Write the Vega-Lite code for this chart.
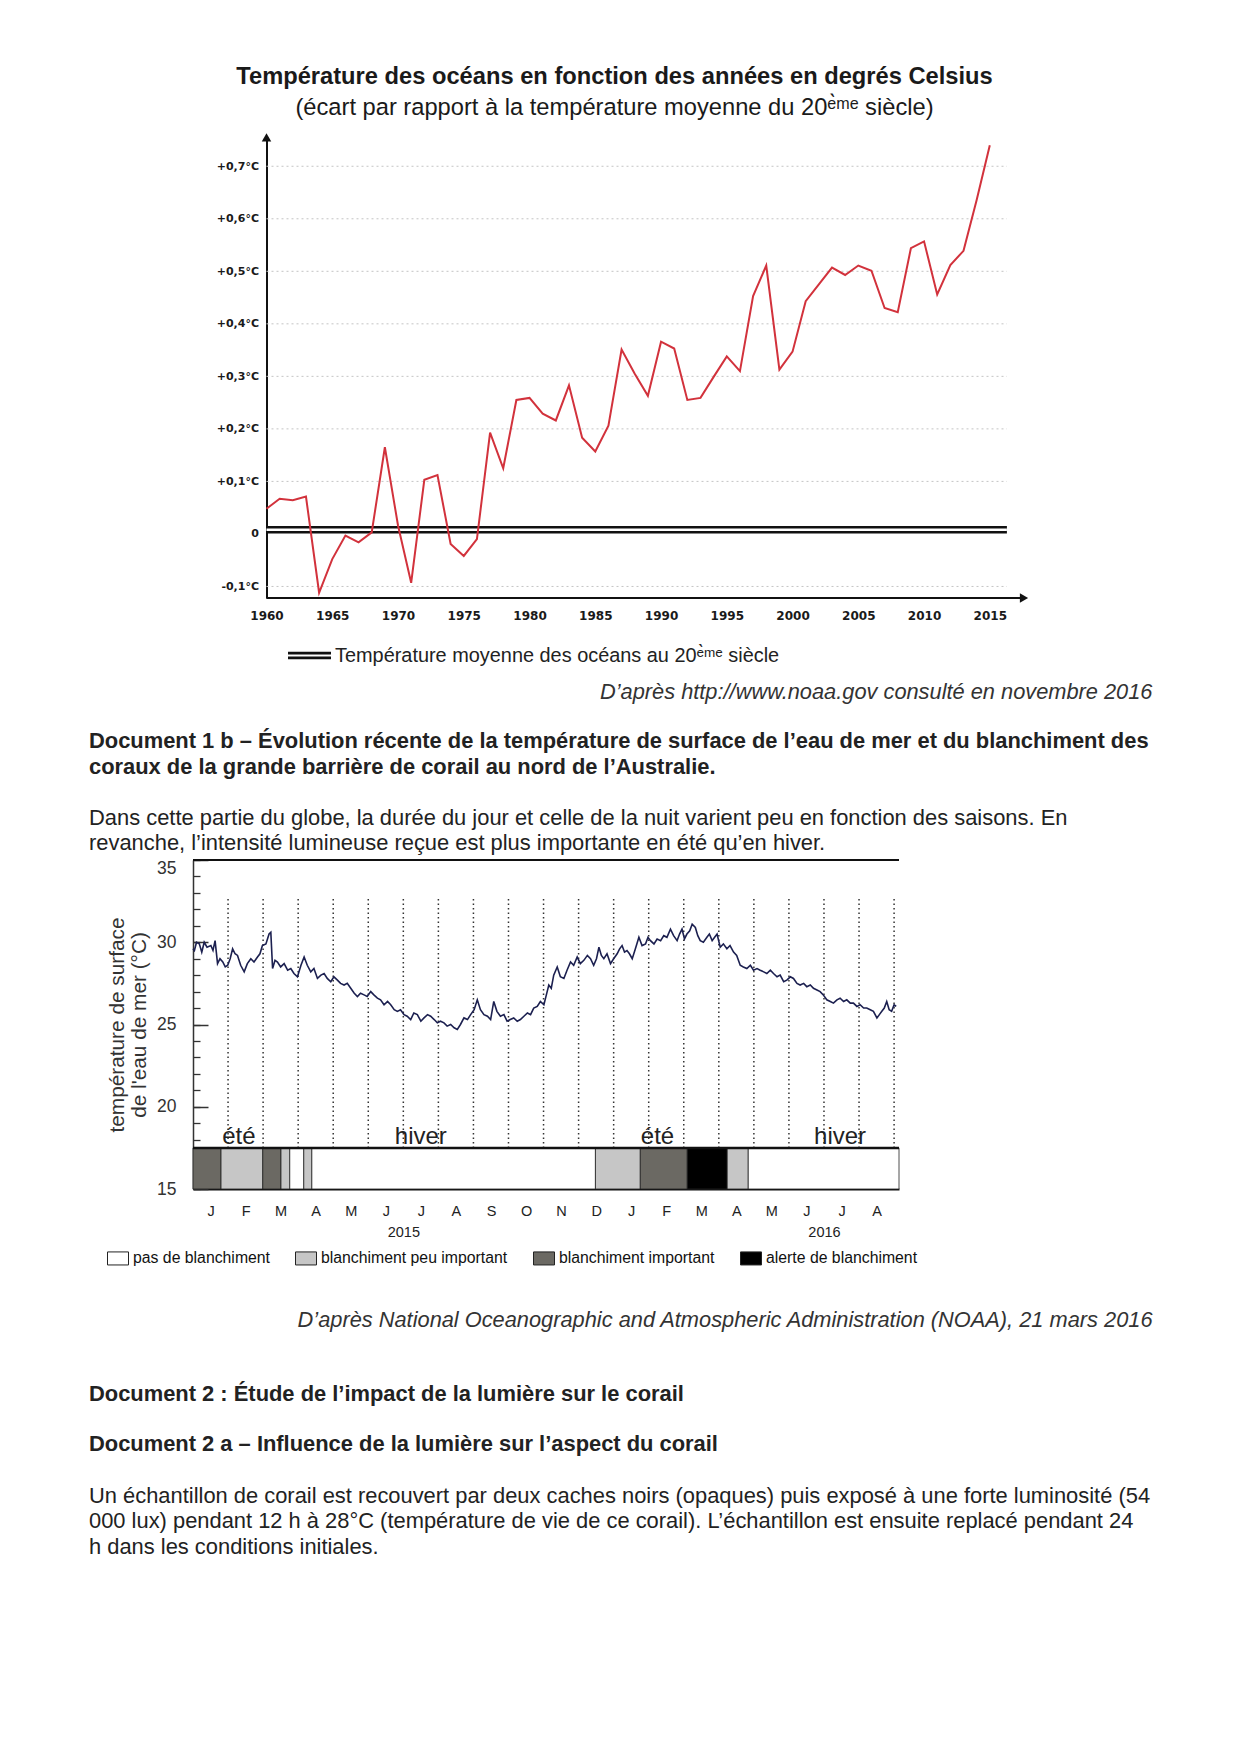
{
"$schema": "https://vega.github.io/schema/vega-lite/v6.json",
"background": "white",
"padding": {"left": 89, "top": 64, "right": 20, "bottom": 20},
"spacing": 27,
"resolve": {"legend": {"stroke": "independent", "fill": "independent"}},
"config": {"view": {"stroke": null}, "font": "Liberation Sans", "axis": {"labelFont": "Liberation Sans", "titleFont": "Liberation Sans"}, "legend": {"labelFont": "Liberation Sans", "padding": 0}},
"title": {"text": ["Document 2 : Étude de l’impact de la lumière sur le corail", "Document 2 a – Influence de la lumière sur l’aspect du corail"], "subtitle": ["Un échantillon de corail est recouvert par deux caches noirs (opaques) puis exposé à une forte luminosité (54", "000 lux) pendant 12 h à 28°C (température de vie de ce corail). L’échantillon est ensuite replacé pendant 24", "h dans les conditions initiales."], "orient": "bottom", "anchor": "start", "frame": "bounds", "offset": 52, "fontSize": 21.9, "fontWeight": "bold", "lineHeight": 50, "color": "#222", "subtitleFontSize": 21.9, "subtitleLineHeight": 25.7, "subtitlePadding": 30, "subtitleColor": "#222", "font": "Liberation Sans", "subtitleFont": "Liberation Sans"},
"vconcat": [
{
"width": 831, "height": 458,
"title": {"text": "Température des océans en fonction des années en degrés Celsius", "subtitle": "(écart par rapport à la température moyenne du 20ᵉ̀ᵐᵉ siècle)", "anchor": "middle", "frame": "group", "dx": 6, "offset": 13.8, "fontSize": 23.7, "fontWeight": "bold", "color": "#1a1a1a", "subtitleFontSize": 23.7, "subtitleColor": "#1a1a1a", "subtitlePadding": 7.3, "font": "Liberation Sans", "subtitleFont": "Liberation Sans"},
"resolve": {"axis": {"x": "independent", "y": "independent"}},
"layer": [
{"data": {"values": [{"niveau": -0.1}, {"niveau": 0.1}, {"niveau": 0.2}, {"niveau": 0.3}, {"niveau": 0.4}, {"niveau": 0.5}, {"niveau": 0.6}, {"niveau": 0.7}]},
 "mark": {"type": "rule", "color": "#c4c4c4", "strokeDash": [2, 3], "strokeWidth": 1},
 "encoding": {"y": {"field": "niveau", "type": "quantitative", "scale": {"domain": [-0.122, 0.75], "nice": false, "zero": false}, "axis": null},
  "x": {"datum": 1960, "scale": {"domain": [1954.41, 2017.6], "nice": false, "zero": false}, "axis": null}, "x2": {"datum": 2016.3}}},
{"data": {"values": [{}]},
 "mark": {"type": "rule", "strokeWidth": 7.5},
 "encoding": {"y": {"datum": 0.008, "scale": {"domain": [-0.122, 0.75], "nice": false, "zero": false}, "axis": null},
  "x": {"datum": 1960, "scale": {"domain": [1954.41, 2017.6], "nice": false, "zero": false}, "axis": null}, "x2": {"datum": 2016.3},
  "stroke": {"datum": "Température moyenne des océans au 20ᵉ̀ᵐᵉ siècle", "type": "nominal", "scale": {"range": ["#111111"]},
   "legend": {"orient": "none", "legendX": 95, "legendY": 494, "title": null, "symbolType": "M-1,-0.17H1V-0.05H-1Z M-1,0.05H1V0.17H-1Z", "symbolSize": 1849, "symbolStrokeWidth": 0, "labelFontSize": 19.9, "labelColor": "#222", "labelOffset": 4, "labelLimit": 800,
    "encode": {"symbols": {"update": {"fill": {"value": "#111111"}, "strokeWidth": {"value": 0}}}}}}}},
{"data": {"values": [{}]},
 "mark": {"type": "rule", "color": "white", "strokeWidth": 2.4},
 "encoding": {"y": {"datum": 0.008, "scale": {"domain": [-0.122, 0.75], "nice": false, "zero": false}, "axis": null},
  "x": {"datum": 1960, "scale": {"domain": [1954.41, 2017.6], "nice": false, "zero": false}, "axis": null}, "x2": {"datum": 2016.3}}},
{"data": {"values": [{}]},
 "mark": {"type": "rule", "color": "#111", "strokeWidth": 2},
 "encoding": {"y": {"datum": -0.122, "scale": {"domain": [-0.122, 0.75], "nice": false, "zero": false}, "axis": null},
  "x": {"datum": 1960, "scale": {"domain": [1954.41, 2017.6], "nice": false, "zero": false}, "axis": null}, "x2": {"datum": 2017.3}}},
{"data": {"values": [{}]},
 "mark": {"type": "point", "shape": "triangle-right", "filled": true, "color": "#111", "size": 90, "opacity": 1},
 "encoding": {"y": {"datum": -0.122, "scale": {"domain": [-0.122, 0.75], "nice": false, "zero": false}, "axis": null},
  "x": {"datum": 2017.6, "scale": {"domain": [1954.41, 2017.6], "nice": false, "zero": false}, "axis": null}}},
{"data": {"values": [{}]},
 "mark": {"type": "point", "shape": "triangle-up", "filled": true, "color": "#111", "size": 90, "opacity": 1},
 "encoding": {"y": {"datum": 0.755, "scale": {"domain": [-0.122, 0.75], "nice": false, "zero": false}, "axis": null},
  "x": {"datum": 1960, "scale": {"domain": [1954.41, 2017.6], "nice": false, "zero": false}, "axis": null}}},
{"data": {"values": [
{"annee":1960,"ecart":0.048},{"annee":1961,"ecart":0.067},{"annee":1962,"ecart":0.064},{"annee":1963,"ecart":0.071},{"annee":1964,"ecart":-0.112},{"annee":1965,"ecart":-0.048},{"annee":1966,"ecart":-0.003},{"annee":1967,"ecart":-0.016},{"annee":1968,"ecart":0.003},{"annee":1969,"ecart":0.165},
{"annee":1970,"ecart":0.016},{"annee":1971,"ecart":-0.093},{"annee":1972,"ecart":0.103},{"annee":1973,"ecart":0.112},{"annee":1974,"ecart":-0.019},{"annee":1975,"ecart":-0.042},{"annee":1976,"ecart":-0.010},{"annee":1977,"ecart":0.193},{"annee":1978,"ecart":0.125},{"annee":1979,"ecart":0.255},
{"annee":1980,"ecart":0.259},{"annee":1981,"ecart":0.229},{"annee":1982,"ecart":0.216},{"annee":1983,"ecart":0.283},{"annee":1984,"ecart":0.183},{"annee":1985,"ecart":0.157},{"annee":1986,"ecart":0.206},{"annee":1987,"ecart":0.351},{"annee":1988,"ecart":0.305},{"annee":1989,"ecart":0.263},
{"annee":1990,"ecart":0.366},{"annee":1991,"ecart":0.353},{"annee":1992,"ecart":0.255},{"annee":1993,"ecart":0.259},{"annee":1994,"ecart":0.299},{"annee":1995,"ecart":0.338},{"annee":1996,"ecart":0.310},{"annee":1997,"ecart":0.453},{"annee":1998,"ecart":0.511},{"annee":1999,"ecart":0.313},
{"annee":2000,"ecart":0.347},{"annee":2001,"ecart":0.443},{"annee":2002,"ecart":0.475},{"annee":2003,"ecart":0.507},{"annee":2004,"ecart":0.493},{"annee":2005,"ecart":0.511},{"annee":2006,"ecart":0.501},{"annee":2007,"ecart":0.430},{"annee":2008,"ecart":0.422},{"annee":2009,"ecart":0.544},
{"annee":2010,"ecart":0.557},{"annee":2011,"ecart":0.456},{"annee":2012,"ecart":0.512},{"annee":2013,"ecart":0.539},{"annee":2014,"ecart":0.636},{"annee":2015,"ecart":0.740}]},
 "mark": {"type": "line", "color": "#d2323c", "strokeWidth": 2},
 "encoding": {
  "x": {"field": "annee", "type": "quantitative", "scale": {"domain": [1954.41, 2017.6], "nice": false, "zero": false},
   "axis": {"orient": "bottom", "values": [1960,1965,1970,1975,1980,1985,1990,1995,2000,2005,2010,2015], "format": "d", "ticks": false, "domain": false, "grid": false, "labelFont": "DejaVu Sans", "labelFontWeight": "bold", "labelFontSize": 12, "labelColor": "#1a1a1a", "labelPadding": 12, "labelFlush": false, "labelOverlap": false,
    "title": "D’après http://www.noaa.gov consulté en novembre 2016", "titleX": 959, "titleY": 93, "titleAlign": "right", "titleAnchor": "end", "titleBaseline": "middle", "titleFontSize": 21.8, "titleFontStyle": "italic", "titleFontWeight": "normal", "titleColor": "#333"}},
  "y": {"field": "ecart", "type": "quantitative", "scale": {"domain": [-0.122, 0.75], "nice": false, "zero": false},
   "axis": {"orient": "left", "offset": -73.5, "values": [-0.1,0,0.1,0.2,0.3,0.4,0.5,0.6,0.7], "labelExpr": "datum.value == 0 ? '0' : (datum.value > 0 ? '+' : '-') + replace(format(abs(datum.value), '.1f'), '.', ',') + '°C'", "ticks": false, "domain": true, "domainColor": "#111", "domainWidth": 2, "grid": false, "labelFont": "DejaVu Sans", "labelFontWeight": "bold", "labelFontSize": 11, "labelPadding": 8, "labelColor": "#1a1a1a", "title": null}}}}
]
},
{
"width": 706, "height": 329,
"title": {"text": ["Document 1 b – Évolution récente de la température de surface de l’eau de mer et du blanchiment des", "coraux de la grande barrière de corail au nord de l’Australie."], "subtitle": ["Dans cette partie du globe, la durée du jour et celle de la nuit varient peu en fonction des saisons. En", "revanche, l’intensité lumineuse reçue est plus importante en été qu’en hiver."], "anchor": "start", "frame": "group", "dx": -104, "offset": 4.2, "fontSize": 21.9, "fontWeight": "bold", "lineHeight": 26, "color": "#222", "subtitleFontSize": 21.9, "subtitleLineHeight": 24.6, "subtitlePadding": 29.4, "subtitleColor": "#222", "font": "Liberation Sans", "subtitleFont": "Liberation Sans"},
"resolve": {"axis": {"x": "independent", "y": "independent"}},
"layer": [
{"data": {"values": [
{"debut":0,"fin":0.80,"niveau":"blanchiment important"},
{"debut":0.80,"fin":1.99,"niveau":"blanchiment peu important"},
{"debut":1.99,"fin":2.51,"niveau":"blanchiment important"},
{"debut":2.51,"fin":2.76,"niveau":"blanchiment peu important"},
{"debut":2.76,"fin":3.16,"niveau":"pas de blanchiment"},
{"debut":3.16,"fin":3.39,"niveau":"blanchiment peu important"},
{"debut":3.39,"fin":11.48,"niveau":"pas de blanchiment"},
{"debut":11.48,"fin":12.76,"niveau":"blanchiment peu important"},
{"debut":12.76,"fin":14.10,"niveau":"blanchiment important"},
{"debut":14.10,"fin":15.24,"niveau":"alerte de blanchiment"},
{"debut":15.24,"fin":15.84,"niveau":"blanchiment peu important"},
{"debut":15.84,"fin":20.14,"niveau":"pas de blanchiment"}]},
 "mark": {"type": "rect", "stroke": "#222", "strokeWidth": 0.8},
 "encoding": {
  "x": {"field": "debut", "type": "quantitative", "scale": {"domain": [0, 20.14], "nice": false, "zero": false}, "axis": null},
  "x2": {"field": "fin"},
  "y": {"datum": 15, "scale": {"domain": [15, 35], "nice": false, "zero": false}, "axis": null},
  "y2": {"datum": 17.5},
  "fill": {"field": "niveau", "type": "nominal", "scale": {"domain": ["pas de blanchiment", "blanchiment peu important", "blanchiment important", "alerte de blanchiment"], "range": ["#ffffff", "#c6c6c6", "#6b6963", "#000000"]},
   "legend": {"orient": "none", "legendX": -86, "legendY": 387.2, "direction": "horizontal", "title": null, "symbolType": "M-1,-0.62H1V0.62H-1Z", "symbolSize": 441, "symbolStrokeColor": "#222", "symbolStrokeWidth": 1, "labelFontSize": 15.8, "labelColor": "#111", "labelOffset": 4, "columnPadding": 23, "labelLimit": 400}}}},
{"data": {"values": [{"debut_mois":1},{"debut_mois":2},{"debut_mois":3},{"debut_mois":4},{"debut_mois":5},{"debut_mois":6},{"debut_mois":7},{"debut_mois":8},{"debut_mois":9},{"debut_mois":10},{"debut_mois":11},{"debut_mois":12},{"debut_mois":13},{"debut_mois":14},{"debut_mois":15},{"debut_mois":16},{"debut_mois":17},{"debut_mois":18},{"debut_mois":19},{"debut_mois":20}]},
 "mark": {"type": "rule", "color": "#333", "strokeDash": [1.5, 3], "strokeWidth": 1.5},
 "encoding": {
  "x": {"field": "debut_mois", "type": "quantitative", "scale": {"domain": [0, 20.14], "nice": false, "zero": false}, "axis": null},
  "y": {"datum": 17.5, "scale": {"domain": [15, 35], "nice": false, "zero": false},
   "axis": {"orient": "left", "values": [15,16,17,18,19,20,21,22,23,24,25,26,27,28,29,30,31,32,33,34,35], "labels": false, "domain": false, "grid": false, "ticks": true, "tickSize": -7, "tickColor": "#333", "tickWidth": 1.3, "title": null}},
  "y2": {"datum": 32.7}}},
{"data": {"values": [{}]},
 "mark": {"type": "rule", "color": "#111", "strokeWidth": 2},
 "encoding": {"y": {"datum": 35, "scale": {"domain": [15, 35], "nice": false, "zero": false}, "axis": null}}},
{"data": {"values": [{}]},
 "mark": {"type": "rule", "color": "#111", "strokeWidth": 2.5},
 "encoding": {"y": {"datum": 17.5, "scale": {"domain": [15, 35], "nice": false, "zero": false}, "axis": null}}},
{"data": {"values": [
{"mois":0.00,"temp":29.6},{"mois":0.04,"temp":29.5},{"mois":0.10,"temp":30.0},{"mois":0.18,"temp":29.9},{"mois":0.25,"temp":29.4},{"mois":0.32,"temp":30.0},{"mois":0.40,"temp":29.7},{"mois":0.51,"temp":29.8},{"mois":0.57,"temp":29.5},{"mois":0.63,"temp":30.1},
{"mois":0.70,"temp":28.7},{"mois":0.77,"temp":29.0},{"mois":0.85,"temp":28.8},{"mois":0.92,"temp":28.5},{"mois":0.99,"temp":28.6},{"mois":1.06,"temp":29.0},{"mois":1.13,"temp":29.6},{"mois":1.20,"temp":29.3},{"mois":1.27,"temp":29.2},{"mois":1.36,"temp":28.6},
{"mois":1.46,"temp":28.2},{"mois":1.55,"temp":28.7},{"mois":1.65,"temp":29.0},{"mois":1.74,"temp":28.8},{"mois":1.84,"temp":29.1},{"mois":1.91,"temp":29.3},{"mois":1.98,"temp":29.8},{"mois":2.08,"temp":29.9},{"mois":2.17,"temp":30.5},{"mois":2.22,"temp":30.6},
{"mois":2.27,"temp":28.4},{"mois":2.34,"temp":28.9},{"mois":2.41,"temp":28.8},{"mois":2.50,"temp":28.5},{"mois":2.60,"temp":28.7},{"mois":2.70,"temp":28.3},{"mois":2.79,"temp":28.4},{"mois":2.88,"temp":28.1},{"mois":2.98,"temp":27.9},{"mois":3.08,"temp":28.6},
{"mois":3.17,"temp":29.1},{"mois":3.26,"temp":28.6},{"mois":3.36,"temp":28.2},{"mois":3.45,"temp":28.4},{"mois":3.55,"temp":27.8},{"mois":3.65,"temp":28.0},{"mois":3.74,"temp":28.1},{"mois":3.83,"temp":27.8},{"mois":3.93,"temp":27.6},{"mois":4.02,"temp":27.9},
{"mois":4.12,"temp":27.7},{"mois":4.21,"temp":27.5},{"mois":4.31,"temp":27.4},{"mois":4.40,"temp":27.5},{"mois":4.50,"temp":27.2},{"mois":4.60,"temp":26.9},{"mois":4.69,"temp":26.7},{"mois":4.78,"temp":26.9},{"mois":4.88,"temp":26.8},{"mois":4.97,"temp":26.7},
{"mois":5.07,"temp":27.0},{"mois":5.16,"temp":26.8},{"mois":5.26,"temp":26.6},{"mois":5.35,"temp":26.5},{"mois":5.45,"temp":26.2},{"mois":5.55,"temp":26.4},{"mois":5.64,"temp":26.2},{"mois":5.74,"temp":25.9},{"mois":5.83,"temp":25.8},{"mois":5.92,"temp":25.9},
{"mois":6.02,"temp":25.6},{"mois":6.11,"temp":25.5},{"mois":6.21,"temp":25.3},{"mois":6.30,"temp":25.7},{"mois":6.40,"temp":25.6},{"mois":6.50,"temp":25.2},{"mois":6.59,"temp":25.4},{"mois":6.69,"temp":25.6},{"mois":6.78,"temp":25.5},{"mois":6.88,"temp":25.3},
{"mois":6.97,"temp":25.1},{"mois":7.06,"temp":25.2},{"mois":7.16,"temp":25.1},{"mois":7.25,"temp":24.9},{"mois":7.35,"temp":25.0},{"mois":7.45,"temp":24.8},{"mois":7.54,"temp":24.7},{"mois":7.63,"temp":25.0},{"mois":7.73,"temp":25.4},{"mois":7.83,"temp":25.3},
{"mois":7.92,"temp":25.6},{"mois":8.02,"temp":25.9},{"mois":8.11,"temp":26.5},{"mois":8.20,"temp":25.9},{"mois":8.30,"temp":25.6},{"mois":8.40,"temp":25.5},{"mois":8.49,"temp":25.3},{"mois":8.58,"temp":26.4},{"mois":8.67,"temp":25.8},{"mois":8.77,"temp":25.5},
{"mois":8.87,"temp":25.6},{"mois":8.96,"temp":25.2},{"mois":9.05,"temp":25.3},{"mois":9.15,"temp":25.4},{"mois":9.25,"temp":25.2},{"mois":9.34,"temp":25.3},{"mois":9.44,"temp":25.5},{"mois":9.54,"temp":25.7},{"mois":9.63,"temp":25.6},{"mois":9.72,"temp":26.0},
{"mois":9.82,"temp":26.1},{"mois":9.91,"temp":26.4},{"mois":10.01,"temp":26.2},{"mois":10.08,"temp":26.8},{"mois":10.15,"temp":27.4},{"mois":10.22,"temp":27.2},{"mois":10.29,"temp":28.0},{"mois":10.39,"temp":28.5},{"mois":10.48,"temp":27.9},{"mois":10.58,"temp":27.8},
{"mois":10.67,"temp":28.3},{"mois":10.77,"temp":28.8},{"mois":10.86,"temp":28.6},{"mois":10.96,"temp":29.1},{"mois":11.05,"temp":28.7},{"mois":11.15,"temp":28.9},{"mois":11.25,"temp":29.2},{"mois":11.34,"temp":29.0},{"mois":11.43,"temp":28.6},{"mois":11.51,"temp":29.0},
{"mois":11.58,"temp":29.7},{"mois":11.65,"temp":29.2},{"mois":11.72,"temp":29.0},{"mois":11.81,"temp":29.3},{"mois":11.91,"temp":28.7},{"mois":12.00,"temp":29.0},{"mois":12.10,"temp":29.3},{"mois":12.17,"temp":29.6},{"mois":12.24,"temp":29.8},{"mois":12.31,"temp":29.4},
{"mois":12.38,"temp":29.5},{"mois":12.45,"temp":29.3},{"mois":12.53,"temp":29.0},{"mois":12.62,"temp":29.6},{"mois":12.72,"temp":30.3},{"mois":12.81,"temp":29.8},{"mois":12.91,"temp":29.9},{"mois":12.98,"temp":30.3},{"mois":13.05,"temp":30.1},{"mois":13.15,"temp":29.9},
{"mois":13.24,"temp":30.2},{"mois":13.34,"temp":30.1},{"mois":13.43,"temp":30.4},{"mois":13.52,"temp":30.3},{"mois":13.62,"temp":30.8},{"mois":13.71,"temp":30.4},{"mois":13.81,"temp":30.1},{"mois":13.88,"temp":30.5},{"mois":13.95,"temp":30.8},{"mois":14.02,"temp":30.2},
{"mois":14.09,"temp":30.5},{"mois":14.17,"temp":30.7},{"mois":14.24,"temp":31.1},{"mois":14.33,"temp":30.9},{"mois":14.40,"temp":30.4},{"mois":14.47,"temp":30.1},{"mois":14.56,"temp":30.0},{"mois":14.66,"temp":30.3},{"mois":14.73,"temp":30.5},{"mois":14.81,"temp":30.1},
{"mois":14.88,"temp":30.3},{"mois":14.95,"temp":30.5},{"mois":15.04,"temp":29.7},{"mois":15.13,"temp":29.9},{"mois":15.23,"temp":29.6},{"mois":15.32,"temp":29.8},{"mois":15.42,"temp":29.4},{"mois":15.51,"temp":29.2},{"mois":15.61,"temp":28.6},{"mois":15.70,"temp":28.5},
{"mois":15.80,"temp":28.4},{"mois":15.90,"temp":28.6},{"mois":15.99,"temp":28.3},{"mois":16.09,"temp":28.4},{"mois":16.18,"temp":28.3},{"mois":16.28,"temp":28.2},{"mois":16.37,"temp":28.1},{"mois":16.47,"temp":28.3},{"mois":16.56,"temp":28.1},{"mois":16.66,"temp":27.9},
{"mois":16.75,"temp":28.0},{"mois":16.85,"temp":27.6},{"mois":16.94,"temp":27.7},{"mois":17.04,"temp":27.9},{"mois":17.13,"temp":27.8},{"mois":17.23,"temp":27.5},{"mois":17.32,"temp":27.4},{"mois":17.42,"temp":27.5},{"mois":17.51,"temp":27.3},{"mois":17.61,"temp":27.4},
{"mois":17.70,"temp":27.2},{"mois":17.80,"temp":27.1},{"mois":17.89,"temp":27.0},{"mois":17.98,"temp":26.8},{"mois":18.08,"temp":26.5},{"mois":18.18,"temp":26.4},{"mois":18.27,"temp":26.3},{"mois":18.37,"temp":26.5},{"mois":18.46,"temp":26.6},{"mois":18.56,"temp":26.4},
{"mois":18.65,"temp":26.5},{"mois":18.75,"temp":26.3},{"mois":18.84,"temp":26.3},{"mois":18.94,"temp":26.1},{"mois":19.03,"temp":26.2},{"mois":19.13,"temp":26.0},{"mois":19.22,"temp":26.0},{"mois":19.32,"temp":25.9},{"mois":19.41,"temp":25.8},{"mois":19.51,"temp":25.4},
{"mois":19.58,"temp":25.6},{"mois":19.65,"temp":25.8},{"mois":19.72,"temp":26.0},{"mois":19.79,"temp":26.4},{"mois":19.86,"temp":25.9},{"mois":19.93,"temp":25.8},{"mois":20.00,"temp":26.2},{"mois":20.06,"temp":26.1}]},
 "mark": {"type": "line", "color": "#1c2050", "strokeWidth": 1.6},
 "encoding": {
  "x": {"field": "mois", "type": "quantitative", "scale": {"domain": [0, 20.14], "nice": false, "zero": false},
   "axis": {"orient": "bottom", "values": [0.5,1.5,2.5,3.5,4.5,5.5,6.5,7.5,8.5,9.5,10.5,11.5,12.5,13.5,14.5,15.5,16.5,17.5,18.5,19.5,6,18], "labelExpr": "datum.value == 6 ? ['', '2015'] : datum.value == 18 ? ['', '2016'] : substring('JFMAMJJASOND', floor(datum.value) % 12, floor(datum.value) % 12 + 1)", "labelOverlap": false, "labelFlush": false, "labelBound": false, "ticks": false, "domain": true, "domainColor": "#111", "domainWidth": 2, "labelPadding": 15.8, "labelFontSize": 14.5, "labelColor": "#222", "labelLineHeight": 21, "grid": false,
    "title": "D’après National Oceanographic and Atmospheric Administration (NOAA), 21 mars 2016", "titleX": 959, "titleY": 130.8, "titleAlign": "right", "titleAnchor": "end", "titleBaseline": "middle", "titleFontSize": 21.8, "titleFontStyle": "italic", "titleFontWeight": "normal", "titleColor": "#333"}},
  "y": {"field": "temp", "type": "quantitative", "scale": {"domain": [15, 35], "nice": false, "zero": false},
   "axis": {"orient": "left", "values": [15,20,25,30,35], "ticks": false, "domain": true, "domainColor": "#333", "domainWidth": 1.5, "grid": false, "labelPadding": 17, "labelFontSize": 17.5, "labelColor": "#333", "labelFlush": false, "labelOffset": {"condition": {"test": "datum.value == 35", "value": 8}, "value": 0},
    "title": ["température de surface", "de l'eau de mer (°C)"], "titleFontSize": 20.8, "titleFontWeight": "normal", "titleColor": "#333", "titleLineHeight": 22, "titlePadding": 7}}}},
{"data": {"values": [{"saison": "été", "mois": 1.31}, {"saison": "hiver", "mois": 6.5}, {"saison": "été", "mois": 13.25}, {"saison": "hiver", "mois": 18.46}]},
 "mark": {"type": "text", "fontSize": 24, "color": "#222", "baseline": "alphabetic", "align": "center"},
 "encoding": {
  "x": {"field": "mois", "type": "quantitative", "scale": {"domain": [0, 20.14], "nice": false, "zero": false}, "axis": null},
  "y": {"datum": 17.72, "scale": {"domain": [15, 35], "nice": false, "zero": false},
   "axis": {"orient": "left", "values": [15,20,25,30,35], "labels": false, "domain": false, "grid": false, "ticks": true, "tickSize": -15, "tickColor": "#333", "tickWidth": 1.5, "title": null}},
  "text": {"field": "saison", "type": "nominal"}}}
]
}
]
}
